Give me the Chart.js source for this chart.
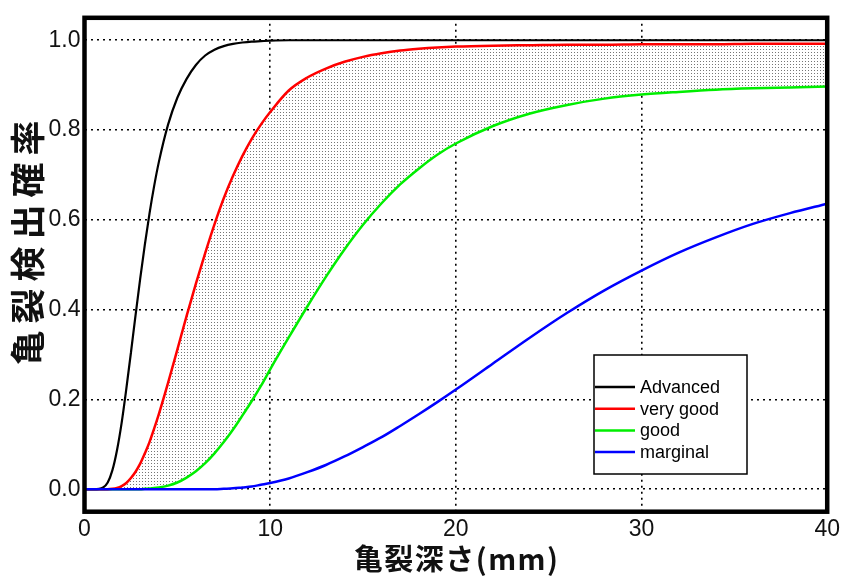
<!DOCTYPE html>
<html>
<head>
<meta charset="utf-8">
<script src="https://cdn.jsdelivr.net/npm/chart.js@4/dist/chart.umd.min.js"></script>
<style>
html,body{margin:0;padding:0;background:#fff;}
#wrap{width:844px;height:579px;position:relative;}
</style>
</head>
<body>
<div id="wrap"><canvas id="c" width="844" height="579"></canvas></div>
<script>
// ---- data ----
const depth = [0,0.5,1,1.25,1.5,1.75,2,2.25,2.5,2.75,3,3.25,3.5,3.75,4,4.5,5,5.5,6,6.5,7,7.5,8,8.5,9,9.5,10,11,12,13,14,15,16,17,18,19,20,22,24,26,28,30,32,34,36,38,40];
const advanced = [0,0,0.004,0.015,0.042,0.087,0.148,0.223,0.304,0.388,0.469,0.545,0.614,0.675,0.728,0.812,0.872,0.914,0.945,0.966,0.979,0.987,0.992,0.995,0.997,0.998,0.999,1,1,1,1,1,1,1,1,1,1,1,1,1,1,1,1,1,1,1,1];
const veryGood = [0,0,0,0,0.001,0.003,0.007,0.014,0.025,0.039,0.057,0.08,0.105,0.135,0.167,0.237,0.311,0.386,0.458,0.526,0.590,0.648,0.698,0.742,0.780,0.812,0.840,0.888,0.917,0.937,0.952,0.963,0.971,0.977,0.981,0.984,0.986,0.988,0.989,0.990,0.990,0.991,0.991,0.991,0.992,0.992,0.992];
const good = [0,0,0,0,0,0,0,0,0,0,0,0.001,0.0015,0.003,0.004,0.008,0.015,0.026,0.040,0.058,0.080,0.105,0.133,0.164,0.196,0.230,0.267,0.338,0.407,0.473,0.534,0.589,0.637,0.679,0.714,0.745,0.770,0.809,0.837,0.856,0.870,0.879,0.885,0.890,0.893,0.895,0.897];
const marginal = [0,0,0,0,0,0,0,0,0,0,0,0,0,0,0,0,0,0,0,0,0,0.001,0.002,0.004,0.006,0.010,0.014,0.024,0.038,0.054,0.073,0.094,0.116,0.141,0.167,0.194,0.222,0.280,0.338,0.393,0.443,0.487,0.527,0.561,0.591,0.615,0.636];
const seriesNames = ['Advanced','very good','good','marginal'];
const xTicks = [0,10,20,30,40];
const yTicks = [0,0.2,0.4,0.6,0.8,1.0];
const yTickLabels = ['0.0','0.2','0.4','0.6','0.8','1.0'];
const xTitle = '亀裂深さ(mm)';
const yTitle = '亀裂検出確率';

// ---- styles ----
const colors = ['#000000','#ff0000','#00ee00','#0000ff'];
function makePattern(){
  const p = document.createElement('canvas');
  p.width = 3; p.height = 3;
  const g = p.getContext('2d');
  g.fillStyle = '#ffffff'; g.fillRect(0,0,3,3);
  g.fillStyle = '#767676'; g.fillRect(1,1,1,1);
  return g.createPattern(p,'repeat');
}
const pattern = makePattern();
const pts = arr => depth.map((x,i)=>({x:x,y:arr[i]}));
const seriesData = [advanced, veryGood, good, marginal];
const widths = [2.2,2.5,2.5,2.5];
const orders = [1,2,3,0];

const datasets = seriesNames.map((n,i)=>({
  label:n,
  data:pts(seriesData[i]),
  borderColor:colors[i],
  backgroundColor: i===2 ? pattern : colors[i],
  borderWidth:widths[i],
  pointRadius:0,
  cubicInterpolationMode:'monotone',
  fill: i===2 ? '-1' : false,
  order: orders[i]
}));

function drawSpaced(ctx, text, cx, cy, spacing, rotated){
  const chars = Array.from(text);
  const w = chars.map(c=>ctx.measureText(c).width);
  const total = w.reduce((a,b)=>a+b,0) + spacing*(chars.length-1);
  ctx.save();
  ctx.translate(cx, cy);
  if (rotated) ctx.rotate(-Math.PI/2);
  ctx.textAlign='left'; ctx.textBaseline='middle';
  let x = -total/2;
  chars.forEach((c,i)=>{ ctx.fillText(c, x, 0); x += w[i] + spacing; });
  ctx.restore();
}

const framePlugin = {
  id:'frame',
  afterDraw(chart){
    const {ctx, chartArea:a} = chart;
    ctx.save();
    // legend box
    const lx=594, ly=355, lw=153, lh=119;
    ctx.fillStyle='#fff';
    ctx.fillRect(lx,ly,lw,lh);
    ctx.strokeStyle='#000'; ctx.lineWidth=1.5;
    ctx.strokeRect(lx,ly,lw,lh);
    ctx.font='18px "Liberation Sans", Arial, sans-serif';
    ctx.textBaseline='middle'; ctx.textAlign='left';
    chart.data.datasets.forEach((d,i)=>{
      const y = 387 + i*21.7;
      ctx.strokeStyle=d.borderColor; ctx.lineWidth=2.5;
      ctx.beginPath(); ctx.moveTo(lx+1,y); ctx.lineTo(635,y); ctx.stroke();
      ctx.fillStyle='#000';
      ctx.fillText(d.label,640,y+1);
    });
    // frame
    ctx.strokeStyle='#000'; ctx.lineWidth=4.5;
    ctx.strokeRect(a.left, a.top, a.right-a.left, a.bottom-a.top);
    // axis titles
    ctx.fillStyle='#111';
    ctx.font='bold 35px "Noto Sans CJK JP", sans-serif';
    drawSpaced(ctx, yTitle, 28, 243, 7, true);
    ctx.font='bold 29px "Noto Sans CJK JP", sans-serif';
    drawSpaced(ctx, xTitle, (a.left+a.right)/2, 559, 1.5, false);
    ctx.restore();
  }
};

new Chart(document.getElementById('c'),{
  type:'line',
  data:{datasets:datasets},
  options:{
    responsive:false,
    animation:false,
    layout:{padding:{left:0,right:16.4,top:13,bottom:0}},
    plugins:{
      legend:{display:false},
      tooltip:{enabled:false},
      filler:{drawTime:'beforeDatasetsDraw'}
    },
    scales:{
      x:{
        type:'linear', min:0, max:40,
        afterBuildTicks(s){ s.ticks = xTicks.map(v=>({value:v})); },
        afterFit(s){ s.height = 67.3; },
        ticks:{color:'#111', padding:4, font:{family:'"Liberation Sans", Arial, sans-serif', size:23}},
        grid:{color:'#000', lineWidth:1.6, drawTicks:false},
        border:{display:false, dash:[2,4]},
        title:{display:false}
      },
      y:{
        type:'linear', min:-0.05, max:1.05,
        afterBuildTicks(s){ s.ticks = yTicks.map(v=>({value:v})); },
        afterFit(s){ s.width = 84.5; },
        ticks:{color:'#111', padding:4, font:{family:'"Liberation Sans", Arial, sans-serif', size:23},
          callback:(v)=>{ const k = yTicks.findIndex(t=>Math.abs(t-v)<1e-9); return k>=0 ? yTickLabels[k] : ''; }},
        grid:{color:'#000', lineWidth:1.6, drawTicks:false},
        border:{display:false, dash:[2,4]},
        title:{display:false}
      }
    }
  },
  plugins:[framePlugin]
});
</script>
</body>
</html>
